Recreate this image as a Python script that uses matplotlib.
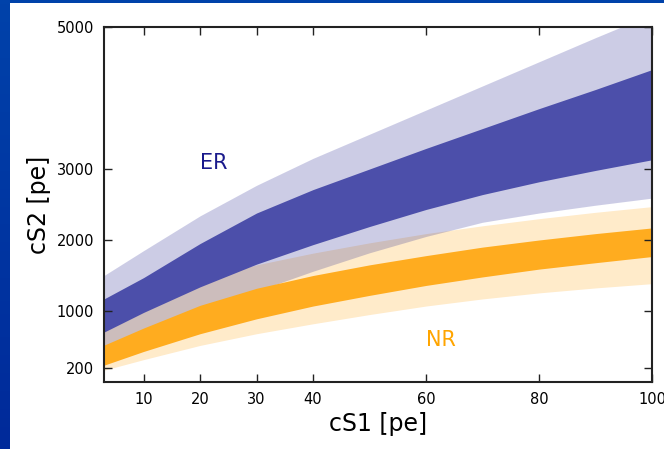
import numpy as np
import matplotlib
matplotlib.use('Agg')
from matplotlib import pyplot as plt

# band edges, cS2 [pe] vs cS1 [pe]
cs1 = [3, 10, 20, 30, 40, 50, 60, 70, 80, 90, 100]

er_outer_hi = [1500, 1850, 2340, 2770, 3150, 3490, 3830, 4170, 4510, 4850, 5180]
er_inner_hi = [1170, 1470, 1950, 2380, 2710, 3000, 3290, 3570, 3850, 4120, 4400]
er_inner_lo = [703, 980, 1340, 1660, 1935, 2190, 2430, 2640, 2820, 2980, 3130]
er_outer_lo = [480, 680, 990, 1280, 1560, 1820, 2050, 2250, 2380, 2490, 2590]

nr_outer_hi = [760, 1145, 1440, 1650, 1815, 1960, 2090, 2200, 2300, 2390, 2470]
nr_inner_hi = [519, 760, 1080, 1320, 1500, 1650, 1780, 1900, 2000, 2090, 2170]
nr_inner_lo = [237, 430, 680, 890, 1070, 1220, 1360, 1480, 1590, 1680, 1767]
nr_outer_lo = [166, 315, 515, 680, 820, 950, 1070, 1170, 1255, 1325, 1385]

xticks = [10, 20, 30, 40, 60, 80, 100]
yticks = [200, 1000, 2000, 3000, 5000]

fig = plt.figure(figsize=(6.64, 4.49), dpi=100)

# blue slide border on the left and top
grad = np.linspace(0, 1, 100).reshape(-1, 1)
bl = fig.add_axes([0, 0, 10 / 664, 1])
bl.imshow(grad, aspect='auto', cmap=matplotlib.colors.LinearSegmentedColormap.from_list(
    'b', ['#0042aa', '#002a9a']), extent=[0, 1, 0, 1])
bl.axis('off')
bt = fig.add_axes([0, 1 - 3 / 449, 1, 3 / 449])
bt.set_facecolor('#0042aa')
bt.set_xticks([])
bt.set_yticks([])
for s in bt.spines.values():
    s.set_visible(False)

ax = fig.add_axes([104 / 664, 67 / 449, 548 / 664, 355 / 449])

ax.fill_between(cs1, nr_outer_lo, nr_outer_hi, color='#ffebca', lw=0)
ax.fill_between(cs1, er_outer_lo, er_outer_hi, color='#1a1a8c', alpha=0.22, lw=0)
ax.fill_between(cs1, nr_inner_lo, nr_inner_hi, color='#ffac1f', lw=0)
ax.fill_between(cs1, er_inner_lo, er_inner_hi, color='#4c4faa', lw=0)

ax.text(20, 3000, 'ER', color='#1a1a8c', fontsize=15)
ax.text(60, 510, 'NR', color='#ffa500', fontsize=15)

ax.set_xlim(3, 100)
ax.set_ylim(0, 5000)
ax.set_xticks(xticks)
ax.set_yticks(yticks)
ax.tick_params(direction='in', top=True, right=True, length=6, width=1,
               labelsize=10.5, pad=7, color='#222222')
for s in ax.spines.values():
    s.set_linewidth(1.5)
    s.set_color('#222222')
ax.set_xlabel('cS1 [pe]', fontsize=17)
ax.set_ylabel('cS2 [pe]', fontsize=17)

plt.savefig('out.png', dpi=100)
